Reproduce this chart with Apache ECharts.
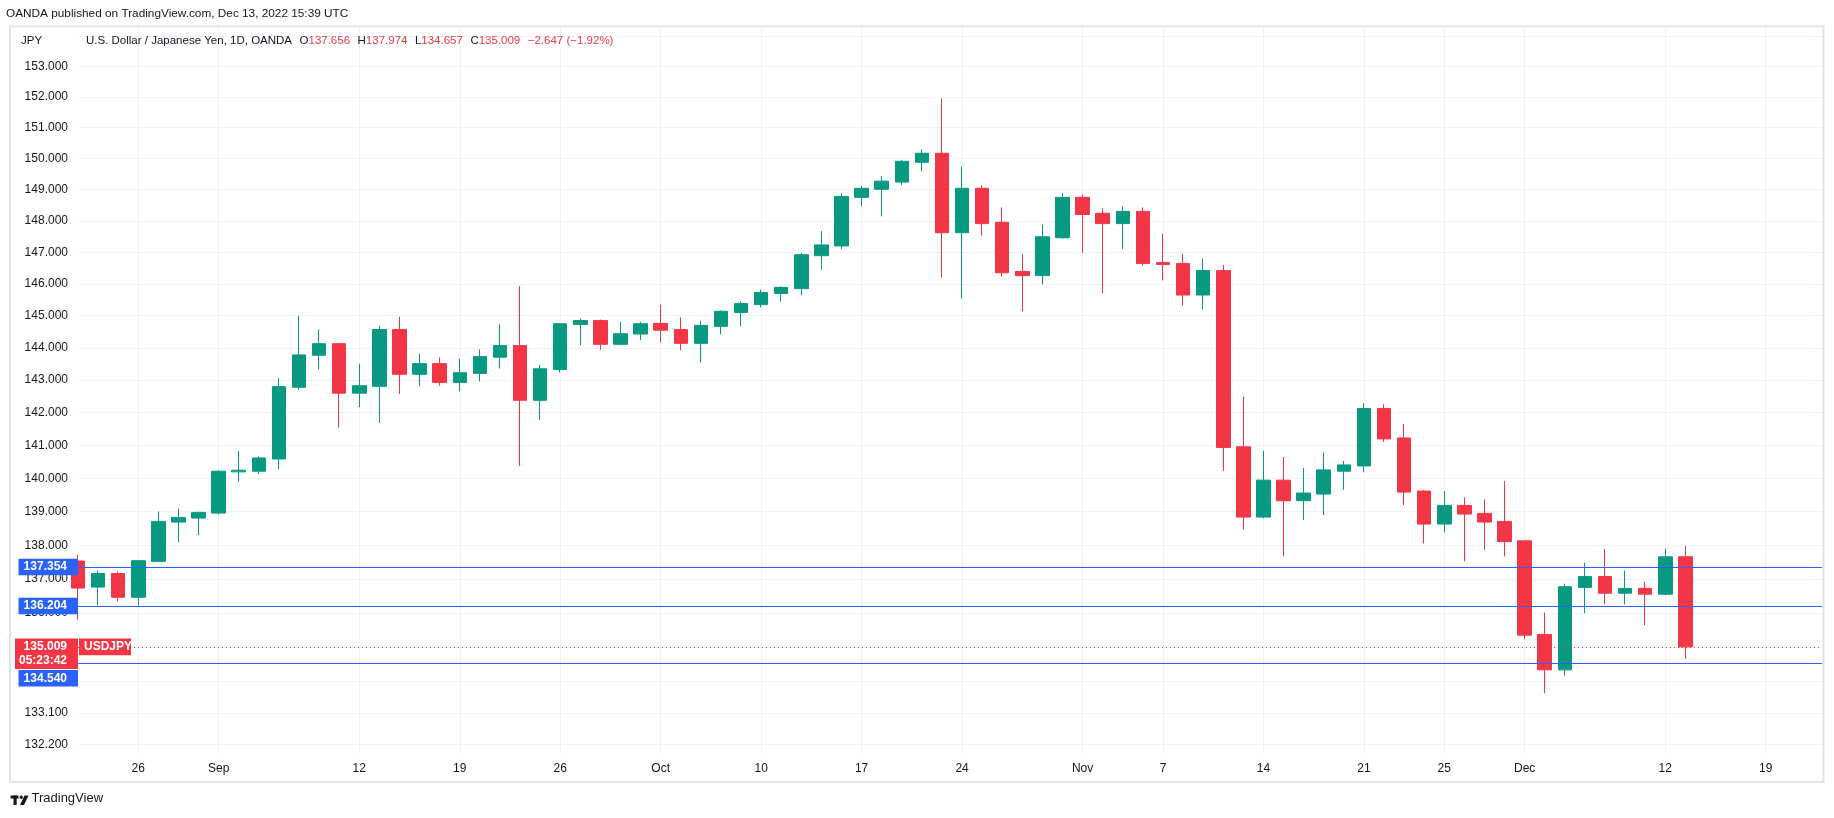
<!DOCTYPE html>
<html>
<head>
<meta charset="utf-8">
<script src="https://cdn.jsdelivr.net/npm/echarts@6/dist/echarts.min.js"></script>
<style>
html,body{margin:0;padding:0;background:#ffffff;}
#chart{width:1834px;height:818px;}
</style>
</head>
<body>
<div id="chart"></div>
<script>
// ---------- data ----------
const dates = [
 '2022-08-23','2022-08-24','2022-08-25','2022-08-26','2022-08-29','2022-08-30','2022-08-31',
 '2022-09-01','2022-09-02','2022-09-05','2022-09-06','2022-09-07','2022-09-08','2022-09-09',
 '2022-09-12','2022-09-13','2022-09-14','2022-09-15','2022-09-16','2022-09-19','2022-09-20',
 '2022-09-21','2022-09-22','2022-09-23','2022-09-26','2022-09-27','2022-09-28','2022-09-29',
 '2022-09-30','2022-10-03','2022-10-04','2022-10-05','2022-10-06','2022-10-07','2022-10-10',
 '2022-10-11','2022-10-12','2022-10-13','2022-10-14','2022-10-17','2022-10-18','2022-10-19',
 '2022-10-20','2022-10-21','2022-10-24','2022-10-25','2022-10-26','2022-10-27','2022-10-28',
 '2022-10-31','2022-11-01','2022-11-02','2022-11-03','2022-11-04','2022-11-07','2022-11-08',
 '2022-11-09','2022-11-10','2022-11-11','2022-11-14','2022-11-15','2022-11-16','2022-11-17',
 '2022-11-18','2022-11-21','2022-11-22','2022-11-23','2022-11-24','2022-11-25','2022-11-28',
 '2022-11-29','2022-11-30','2022-12-01','2022-12-02','2022-12-05','2022-12-06','2022-12-07',
 '2022-12-08','2022-12-09','2022-12-12','2022-12-13',
 '2022-12-14','2022-12-15','2022-12-16','2022-12-19','2022-12-20','2022-12-21'
];
const open = [
 137.53,136.76,137.16,136.46,137.52,138.69,138.81,
 138.96,140.20,140.22,140.59,142.78,143.77,144.13,
 142.60,142.81,144.57,143.18,143.51,142.93,143.21,
 143.71,144.07,142.38,143.33,144.73,144.85,144.11,
 144.43,144.76,144.57,144.14,144.67,145.10,145.35,
 145.70,145.85,146.89,147.20,148.75,149.01,149.24,
 149.88,150.17,147.62,149.04,147.95,146.39,146.26,
 147.46,148.75,148.24,147.91,148.30,146.67,146.64,
 145.65,146.42,140.96,138.84,139.95,139.33,139.53,
 140.22,140.38,142.13,141.23,139.62,138.63,139.19,
 138.95,138.71,138.13,135.37,134.34,136.75,137.07,
 136.58,136.72,136.55,137.656
];
const high = [
 137.71,137.25,137.22,137.56,139.01,139.10,139.00,
 140.25,140.83,140.67,143.07,145.00,144.57,144.15,
 143.51,144.69,144.97,143.82,143.70,143.67,143.95,
 144.73,145.93,143.47,144.77,144.91,144.88,144.81,
 144.81,145.35,144.95,144.85,145.17,145.45,145.82,
 145.92,146.98,147.67,148.88,149.11,149.43,149.95,
 150.30,151.95,149.75,149.14,148.43,146.95,147.88,
 148.88,148.85,148.40,148.46,148.43,147.59,146.95,
 146.79,146.60,142.49,140.84,140.65,140.32,140.78,
 140.53,142.29,142.26,141.65,139.65,139.62,139.43,
 139.37,139.92,138.15,136.01,136.86,137.48,137.89,
 137.25,136.92,137.89,137.974
];
const low = [
 135.80,136.22,136.34,136.22,137.50,138.09,138.30,
 138.92,139.90,140.13,140.28,142.71,143.33,141.54,
 142.17,141.69,142.57,142.81,142.83,142.65,142.96,
 143.36,140.38,141.78,143.24,144.08,143.93,144.10,
 144.24,144.17,143.92,143.54,144.42,144.67,145.26,
 145.45,145.64,146.45,147.10,148.46,148.14,149.14,
 149.59,146.20,145.54,147.53,146.23,145.14,145.98,
 147.43,146.98,145.70,147.10,146.57,146.11,145.32,
 145.20,140.23,138.47,138.80,137.67,138.75,138.90,
 139.66,140.19,141.11,139.20,138.05,138.38,137.52,
 137.87,137.67,135.23,133.66,134.17,135.99,136.25,
 136.25,135.64,136.52,134.657
];
const close = [
 136.73,137.16,136.46,137.54,138.71,138.83,138.98,
 140.22,140.25,140.62,142.80,143.78,144.13,142.60,
 142.83,144.57,143.18,143.51,142.93,143.23,143.73,
 144.07,142.38,143.35,144.75,144.85,144.11,144.44,
 144.75,144.55,144.14,144.70,145.14,145.38,145.73,
 145.89,146.92,147.23,148.78,149.04,149.27,149.91,
 150.17,147.62,149.04,147.91,146.35,146.26,147.49,
 148.75,148.20,147.91,148.30,146.64,146.61,145.65,
 146.42,140.94,138.84,139.95,139.33,139.56,140.26,
 140.41,142.13,141.20,139.59,138.63,139.19,138.93,
 138.69,138.11,135.35,134.34,136.77,137.07,136.58,
 136.72,136.55,137.656,135.009
];
const yTickValues = [154,153,152,151,150,149,148,147,146,145,144,143,142,141,140,139,138,137,136,135,134,133.1,132.2];
const yLabelValues = [153,152,151,150,149,148,147,146,145,144,143,142,141,140,139,138,137,136,135,134,133.1,132.2];
const xTickDates = ['2022-08-26','2022-09-01','2022-09-12','2022-09-19','2022-09-26','2022-10-03','2022-10-10','2022-10-17','2022-10-24','2022-11-01','2022-11-07','2022-11-14','2022-11-21','2022-11-25','2022-12-01','2022-12-12','2022-12-19'];
const xTickTexts = ['26','Sep','12','19','26','Oct','10','17','24','Nov','7','14','21','25','Dec','12','19'];
const horizontalLevels = [137.354, 136.204, 134.540];
const lastPrice = 135.009;
const countdownText = '05:23:42';
const symbolText = 'USDJPY';
const titleText = 'U.S. Dollar / Japanese Yen, 1D, OANDA';
const headerText = 'OANDA published on TradingView.com, Dec 13, 2022 15:39 UTC';
const yRange = [131.925, 154.315];
const xRange = [0, 86.8];

// ---------- build ----------
const LN = Math.log;
const FONT = '"Liberation Sans", Arial, sans-serif';
const GREEN = '#089981', RED = '#F23645', BLUE = '#2962FF', TXT = '#131722', GRID = '#f0f3fa';

const candleData = open.map((o, i) => [i, LN(o), LN(close[i]), LN(low[i]), LN(high[i])]);
const xTickIdx = xTickDates.map(d => dates.indexOf(d));

const chart = echarts.init(document.getElementById('chart'), null, {renderer: 'canvas'});

const option = {
  animation: false,
  backgroundColor: '#ffffff',
  grid: {left: 78, top: 27, width: 1744, bottom: 64, containLabel: false},
  xAxis: {
    type: 'value', min: xRange[0], max: xRange[1],
    axisLine: {show: false},
    axisTick: {show: false, customValues: xTickIdx},
    axisLabel: {
      customValues: xTickIdx, color: TXT, fontSize: 12, fontFamily: FONT, margin: 9,
      formatter: v => { const k = xTickIdx.indexOf(Math.round(v)); return k >= 0 ? xTickTexts[k] : ''; }
    },
    splitLine: {show: true, lineStyle: {color: GRID, width: 1}}
  },
  yAxis: {
    type: 'value', position: 'left', min: LN(yRange[0]), max: LN(yRange[1]),
    axisLine: {show: false},
    axisTick: {show: false, customValues: yTickValues.map(LN)},
    axisLabel: {
      customValues: yLabelValues.map(LN), color: TXT, fontSize: 12, fontFamily: FONT, margin: 10,
      formatter: v => Math.exp(v).toFixed(3)
    },
    splitLine: {show: true, lineStyle: {color: GRID, width: 1}}
  },
  series: [{
    type: 'candlestick',
    data: candleData,
    barWidth: 14,
    itemStyle: {color: GREEN, color0: RED, borderColor: GREEN, borderColor0: RED, borderWidth: 1},
    markLine: {
      silent: true, symbol: ['none', 'none'], animation: false, precision: 12,
      label: {show: false},
      data: horizontalLevels.map(v => ({yAxis: LN(v), lineStyle: {color: BLUE, width: 1, type: 'solid'}}))
        .concat([{yAxis: LN(lastPrice), lineStyle: {color: RED, width: 1, type: [1, 3]}}])
    }
  }]
};
chart.setOption(option);

// ---------- annotations (text, frame, price tags) ----------
const ypx = v => chart.convertToPixel({yAxisIndex: 0}, LN(v));
const mctx = document.createElement('canvas').getContext('2d');
const LEG_FONT = '11.5px ' + FONT;
mctx.font = LEG_FONT;
const tw = s => mctx.measureText(s).width;

const g = [];
// frame
g.push({type: 'rect', shape: {x: 10, y: 26.5, width: 1813.5, height: 755.5}, style: {fill: 'none', stroke: '#e0e3eb', lineWidth: 2}, z: 50, silent: true});
// header
g.push({type: 'text', left: 6, top: 8, style: {text: headerText, fill: TXT, font: '11.8px ' + FONT}, z: 60});
// legend
g.push({type: 'text', left: 21, top: 35, style: {text: 'JPY', fill: TXT, font: LEG_FONT}, z: 60});
const chg = close[close.length-1] - close[close.length-2];
const pct = chg / close[close.length-2] * 100;
const sign = chg < 0 ? '\u2212' : '+';
const legendParts = [
  [[titleText, TXT]],
  [['O', TXT], [open[open.length-1].toFixed(3), RED]],
  [['H', TXT], [high[high.length-1].toFixed(3), RED]],
  [['L', TXT], [low[low.length-1].toFixed(3), RED]],
  [['C', TXT], [close[close.length-1].toFixed(3), RED]],
  [[sign + Math.abs(chg).toFixed(3) + ' (' + sign + Math.abs(pct).toFixed(2) + '%)', RED]]
];
let lx = 86;
legendParts.forEach(part => {
  part.forEach(seg => {
    g.push({type: 'text', left: lx, top: 35, style: {text: seg[0], fill: seg[1], font: LEG_FONT}, z: 60});
    lx += tw(seg[0]);
  });
  lx += 7.5;
});

// price tags
function blueTag(cy, val) {
  g.push({type: 'rect', shape: {x: 18.5, y: cy - 8.3, width: 59.5, height: 16.6}, style: {fill: BLUE}, z: 70});
  g.push({type: 'text', x: 67, y: cy, style: {text: val.toFixed(3), fill: '#ffffff', font: 'bold 12px ' + FONT, align: 'right', verticalAlign: 'middle'}, z: 71});
}
blueTag(ypx(horizontalLevels[0]), horizontalLevels[0]);
blueTag(ypx(horizontalLevels[1]), horizontalLevels[1]);
const ly = ypx(lastPrice);
const redTop = ly - 8.3;
g.push({type: 'rect', shape: {x: 15, y: redTop, width: 63, height: 30.4}, style: {fill: RED}, z: 72});
g.push({type: 'text', x: 67, y: ly, style: {text: lastPrice.toFixed(3), fill: '#ffffff', font: 'bold 12px ' + FONT, align: 'right', verticalAlign: 'middle'}, z: 73});
g.push({type: 'text', x: 67, y: ly + 14.2, style: {text: countdownText, fill: '#ffffff', font: 'bold 12px ' + FONT, align: 'right', verticalAlign: 'middle'}, z: 73});
g.push({type: 'rect', shape: {x: 79, y: redTop, width: 52, height: 16.6}, style: {fill: RED}, z: 72});
g.push({type: 'text', x: 84, y: ly, style: {text: symbolText, fill: '#ffffff', font: 'bold 12px ' + FONT, align: 'left', verticalAlign: 'middle'}, z: 73});
// third level tag pushed below the last-price tag
const thirdTop = Math.max(ypx(horizontalLevels[2]) - 8.3, redTop + 30.4 + 1);
blueTag(thirdTop + 8.3, horizontalLevels[2]);

// footer logo + text
g.push({type: 'rect', shape: {x: 10.5, y: 795.5, width: 8, height: 3}, style: {fill: TXT}, z: 60});
g.push({type: 'rect', shape: {x: 13.5, y: 795.5, width: 3.2, height: 9.5}, style: {fill: TXT}, z: 60});
g.push({type: 'circle', shape: {cx: 21.2, cy: 797.2, r: 1.7}, style: {fill: TXT}, z: 60});
g.push({type: 'polygon', shape: {points: [[24.5, 795.5], [28.5, 795.5], [24, 805], [20, 805]]}, style: {fill: TXT}, z: 60});
g.push({type: 'text', left: 31.5, top: 792, style: {text: 'TradingView', fill: TXT, font: '13px ' + FONT}, z: 60});

chart.setOption({graphic: g});
</script>
</body>
</html>
